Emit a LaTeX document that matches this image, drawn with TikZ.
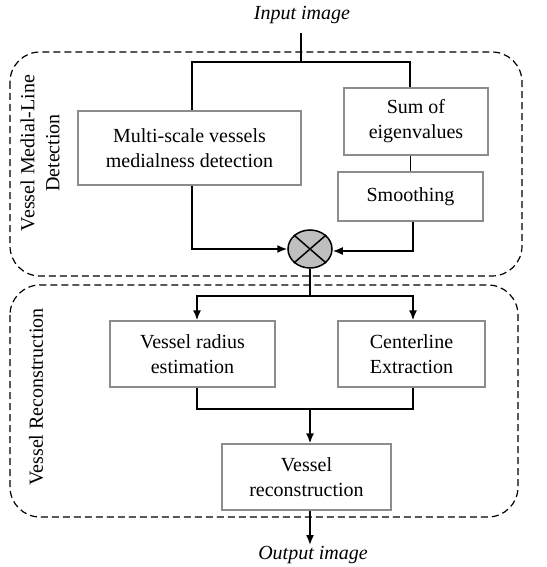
\documentclass[tikz,border=0pt]{standalone}
\usepackage{fontspec}
\setmainfont{Liberation Serif}
\usetikzlibrary{arrows.meta,shapes.geometric}
\begin{document}
\begin{tikzpicture}[x=1pt,y=-1pt,
  every node/.style={font=\fontsize{20}{25}\selectfont},
  box/.style={draw=gray!90, line width=1.3pt, align=center, inner sep=0pt},
  conn/.style={line width=1.6pt},
  arr/.style={conn, -{Latex[length=10pt,width=8pt]}},
  panel/.style={dashed, line width=1.2pt, dash pattern=on 7pt off 4pt, rounded corners=30pt},
  lbl/.style={font=\fontsize{20}{25}\itshape\selectfont, inner sep=1pt}]
\useasboundingbox (0,0) rectangle (546,567);
% panels
\draw[panel] (10,52) rectangle (522,276);
\draw[panel] (10,285) rectangle (518,517);
\node[rotate=90, align=center] (lab1) at (40,153) {Vessel Medial-Line\\Detection};
\node[rotate=90] (lab2) at (36,397) {Vessel Reconstruction};
% nodes
\node[lbl] (in) at (302,15) {Input image};
\node[lbl] (out) at (313,555) {Output image};
\node[box, minimum width=223pt, minimum height=74pt] (ms) at (189.5,148) {Multi-scale vessels\\medialness detection};
\node[box, minimum width=144pt, minimum height=67pt] (sum) at (416,121.5) {Sum of\\eigenvalues};
\node[box, minimum width=145pt, minimum height=49pt] (smooth) at (410.5,196.5) {Smoothing};
\node[draw, line width=1.5pt, fill=gray!50, ellipse, minimum width=44pt, minimum height=38pt, inner sep=0pt] (mult) at (310,249) {};
\draw[line width=1.5pt] (mult.north east) -- (mult.south west) (mult.north west) -- (mult.south east);
\node[box, minimum width=165pt, minimum height=66pt] (vr) at (192.5,354) {Vessel radius\\estimation};
\node[box, minimum width=147pt, minimum height=66pt] (ce) at (411.5,354) {Centerline\\Extraction};
\node[box, minimum width=169pt, minimum height=66pt] (rec) at (306.5,477) {Vessel\\reconstruction};
% connectors
\coordinate (split) at (301,62);
\coordinate (fork) at (310,296);
\coordinate (merge) at (310,409);
\draw[conn] ([yshift=-8pt]in.south -| split) -- (split);
\draw[conn] (split) -| ([xshift=2.5pt]ms.north);
\draw[conn] (split) -| ([xshift=-6pt]sum.north);
\draw[conn] (smooth.north) -- (smooth.north |- sum.south);
\draw[arr] ([xshift=2.5pt]ms.south) |- (mult.west);
\draw[arr] ([xshift=2.5pt]smooth.south) |- ([yshift=-2pt]mult.east);
\draw[conn] (mult.south) -- (fork);
\draw[arr] (fork) -| ([xshift=4.5pt]vr.north);
\draw[arr] (fork) -| ([xshift=1.5pt]ce.north);
\draw[conn] ([xshift=4.5pt]vr.south) |- (merge) -| ([xshift=1.5pt]ce.south);
\draw[arr] (merge) -- (merge |- rec.north);
\draw[arr] (rec.south -| merge) -- (merge |- out.north);
\end{tikzpicture}
\end{document}
